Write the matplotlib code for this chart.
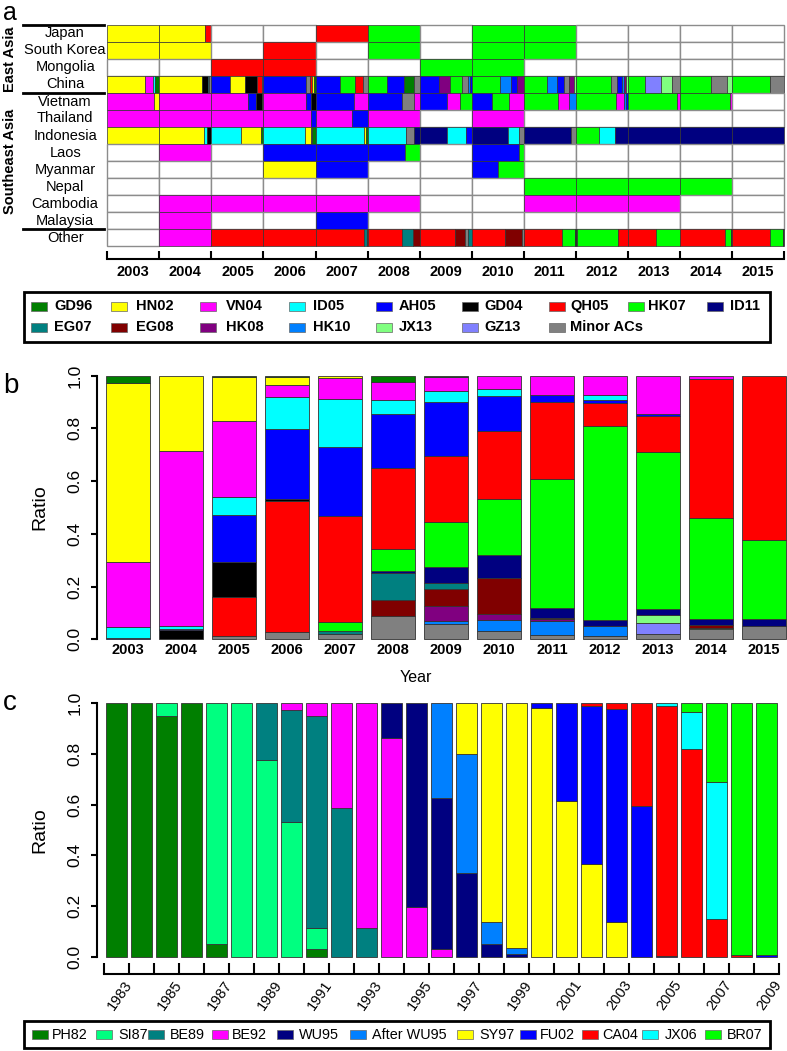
import numpy as np
import matplotlib
matplotlib.use('Agg')
import matplotlib.pyplot as plt
import matplotlib.transforms as mtransforms
from matplotlib.patches import Rectangle

plt.rcParams['font.family'] = ['Liberation Sans', 'DejaVu Sans']

# ---------------- data: panels a and b ----------------
ac_names = ['GD96', 'HN02', 'VN04', 'ID05', 'AH05', 'GD04', 'QH05', 'HK07', 'ID11',
            'EG07', 'EG08', 'HK08', 'HK10', 'JX13', 'GZ13', 'Minor ACs']
ac_colors = ['#007F00', '#FFFF00', '#FF00FF', '#00FFFF', '#0000FF', '#000000', '#FF0000', '#00FF00', '#000080',
             '#008080', '#800000', '#800080', '#0080FF', '#80FF80', '#8080FF', '#808080']
years_ab = list(range(2003, 2016))
countries = ['Japan', 'South Korea', 'Mongolia', 'China', 'Vietnam', 'Thailand', 'Indonesia',
             'Laos', 'Myanmar', 'Nepal', 'Cambodia', 'Malaysia', 'Other']

# panel a: one list per country, one cell per year, (lineage, share) segments; [] = no data
japan = [[('HN02', 1)], [('HN02', .87), ('QH05', .13)], [], [], [('QH05', 1)], [('HK07', 1)], [],
         [('HK07', 1)], [('HK07', 1)], [], [], [], []]
south_korea = [[('HN02', 1)], [('HN02', 1)], [], [('QH05', 1)], [], [('HK07', 1)], [],
               [('HK07', 1)], [('HK07', 1)], [], [], [], []]
mongolia = [[], [], [('QH05', 1)], [('QH05', 1)], [], [], [('HK07', 1)], [('HK07', 1)], [], [], [], [], []]
china = [[('HN02', .73), ('VN04', .15), ('ID05', .045), ('GD96', .075)],
         [('HN02', .82), ('GD04', .11), ('ID05', .03), ('Minor ACs', .04)],
         [('AH05', .365), ('HN02', .275), ('GD04', .235), ('QH05', .095), ('Minor ACs', .03)],
         [('AH05', .82), ('Minor ACs', .065), ('QH05', .045), ('HN02', .035), ('GD96', .035)],
         [('AH05', .47), ('HK07', .28), ('QH05', .16), ('Minor ACs', .09)],
         [('HK07', .38), ('AH05', .32), ('GD96', .19), ('Minor ACs', .11)],
         [('AH05', .37), ('HK08', .22), ('HK07', .22), ('Minor ACs', .11), ('HK10', .05), ('AH05', .03)],
         [('HK07', .545), ('HK10', .205), ('AH05', .128), ('HK08', .122)],
         [('HK07', .455), ('HK10', .18), ('AH05', .14), ('Minor ACs', .1), ('HK08', .095), ('JX13', .03)],
         [('HK07', .68), ('Minor ACs', .12), ('AH05', .08), ('HK10', .05), ('HK08', .04), ('JX13', .03)],
         [('HK07', .33), ('GZ13', .30), ('JX13', .21), ('Minor ACs', .16)],
         [('HK07', .6), ('Minor ACs', .3), ('JX13', .1)],
         [('HK07', .74), ('Minor ACs', .26)]]
vietnam = [[('VN04', .89), ('HN02', .11)], [('VN04', 1)],
           [('VN04', .7), ('AH05', .15), ('GD04', .12), ('GD96', .03)],
           [('VN04', .81), ('AH05', .095), ('GD04', .095)],
           [('AH05', .74), ('VN04', .26)],
           [('AH05', .655), ('Minor ACs', .24), ('VN04', .105)],
           [('AH05', .53), ('VN04', .245), ('HK07', .225)],
           [('AH05', .4), ('HK07', .32), ('VN04', .28)],
           [('HK07', .66), ('VN04', .21), ('HK10', .13)],
           [('HK07', .77), ('VN04', .16), ('HK10', .04), ('AH05', .03)],
           [('HK07', .94), ('VN04', .06)], [('HK07', .97), ('VN04', .03)], []]
thailand = [[('VN04', 1)], [('VN04', 1)], [('VN04', 1)], [('VN04', .91), ('AH05', .09)],
            [('VN04', .70), ('AH05', .30)], [('VN04', 1)], [], [('VN04', 1)], [], [], [], [], []]
indonesia = [[('HN02', 1)], [('HN02', .85), ('ID05', .06), ('GD04', .09)],
             [('ID05', .56), ('HN02', .40), ('GD96', .04)],
             [('ID05', .795), ('HN02', .11), ('Minor ACs', .035), ('GD96', .06)],
             [('ID05', .93), ('HN02', .04), ('GD96', .03)],
             [('ID05', .73), ('Minor ACs', .17), ('ID11', .10)],
             [('ID11', .52), ('ID05', .37), ('AH05', .11)],
             [('ID11', .69), ('ID05', .21), ('Minor ACs', .10)],
             [('ID11', .90), ('Minor ACs', .10)],
             [('HK07', .45), ('ID05', .30), ('ID11', .25)],
             [('ID11', 1)], [('ID11', 1)], [('ID11', 1)]]
laos = [[], [('VN04', 1)], [], [('AH05', 1)], [('AH05', 1)], [('AH05', .71), ('HK07', .29)], [],
        [('AH05', .9), ('HK07', .1)], [], [], [], [], []]
myanmar = [[], [], [], [('HN02', 1)], [('AH05', 1)], [], [], [('AH05', .51), ('HK07', .49)], [], [], [], [], []]
nepal = [[], [], [], [], [], [], [], [], [('HK07', 1)], [('HK07', 1)], [('HK07', 1)], [('HK07', 1)], []]
cambodia = [[], [('VN04', 1)], [('VN04', 1)], [('VN04', 1)], [('VN04', 1)], [('VN04', 1)], [], [],
            [('VN04', 1)], [('VN04', 1)], [('VN04', 1)], [], []]
malaysia = [[], [('VN04', 1)], [], [], [('AH05', 1)], [], [], [], [], [], [], [], []]
other = [[], [('VN04', 1)], [('QH05', 1)], [('QH05', 1)],
         [('QH05', .93), ('EG07', .05), ('EG08', .02)],
         [('QH05', .67), ('EG07', .20), ('EG08', .13)],
         [('QH05', .68), ('EG08', .19), ('Minor ACs', .06), ('EG07', .07)],
         [('QH05', .64), ('EG08', .32), ('Minor ACs', .04)],
         [('QH05', .74), ('HK07', .24), ('GD04', .02)],
         [('GD04', .02), ('HK07', .79), ('QH05', .19)],
         [('QH05', .55), ('HK07', .45)],
         [('QH05', .87), ('HK07', .11), ('GD04', .02)],
         [('QH05', .73), ('HK07', .25), ('GD04', .02)]]
panel_a_rows = [japan, south_korea, mongolia, china, vietnam, thailand, indonesia,
                laos, myanmar, nepal, cambodia, malaysia, other]

# panel b: yearly ratio of each lineage (2003..2015)
b_gd96 = [.027, 0, .006, .004, 0, .025, .006, 0, 0, 0, 0, 0, 0]
b_hn02 = [.678, .286, .166, .031, .010, 0, 0, 0, 0, 0, 0, 0, 0]
b_vn04 = [.249, .664, .287, .045, .077, .067, .051, .049, .074, .073, .145, .011, 0]
b_id05 = [.041, .010, .069, .122, .184, .053, .043, .028, 0, .019, 0, 0, 0]
b_ah05 = [.005, .004, .179, .264, .261, .206, .203, .131, .026, .010, .008, 0, 0]
b_gd04 = [0, .036, .134, .008, 0, 0, 0, 0, 0, 0, 0, 0, 0]
b_qh05 = [0, 0, .146, .499, .401, .306, .252, .260, .291, .087, .135, .530, .624]
b_hk07 = [0, 0, 0, 0, .034, .084, .170, .213, .490, .739, .596, .381, .298]
b_id11 = [0, 0, 0, 0, 0, .009, .063, .087, .037, .022, .025, .024, .028]
b_eg07 = [0, 0, 0, 0, .014, .100, .020, 0, 0, 0, 0, 0, 0]
b_eg08 = [0, 0, 0, 0, 0, .062, .066, .136, .005, 0, 0, .010, 0]
b_hk08 = [0, 0, 0, 0, 0, 0, .057, .024, .008, 0, 0, 0, 0]
b_hk10 = [0, 0, 0, 0, 0, 0, .010, .042, .053, .036, 0, 0, 0]
b_jx13 = [0, 0, 0, 0, 0, 0, 0, 0, 0, 0, .028, .006, 0]
b_gz13 = [0, 0, 0, 0, 0, 0, 0, 0, 0, 0, .042, 0, 0]
b_minor = [0, 0, .013, .027, .019, .088, .059, .030, .016, .014, .021, .038, .050]
panel_b = [b_gd96, b_hn02, b_vn04, b_id05, b_ah05, b_gd04, b_qh05, b_hk07, b_id11,
           b_eg07, b_eg08, b_hk08, b_hk10, b_jx13, b_gz13, b_minor]

# ---------------- data: panel c ----------------
years_c = list(range(1983, 2010))
c_names = ['PH82', 'SI87', 'BE89', 'BE92', 'WU95', 'After WU95', 'SY97', 'FU02', 'CA04', 'JX06', 'BR07']
c_colors = ['#007F00', '#00FF80', '#008080', '#FF00FF', '#000080', '#0080FF', '#FFFF00',
            '#0000FF', '#FF0000', '#00FFFF', '#00FF00']
c_ph82 = [1, 1, .95, 1, .05, 0, 0, 0, .03] + [0] * 18
c_si87 = [0, 0, .05, 0, .95, 1, .775, .53, .085] + [0] * 18
c_be89 = [0] * 6 + [.225, .445, .833, .585, .115] + [0] * 16
c_be92 = [0] * 7 + [.025, .052, .415, .885, .865, .195, .03] + [0] * 13
c_wu95 = [0] * 11 + [.135, .805, .595, .33, .05, .012] + [0] * 10
c_after = [0] * 13 + [.375, .47, .085, .023] + [0] * 10
c_sy97 = [0] * 14 + [.20, .865, .965, .982, .615, .365, .135] + [0] * 6
c_fu02 = [0] * 17 + [.018, .385, .624, .843, .595, .004, 0, 0, 0, .006]
c_ca04 = [0] * 19 + [.011, .022, .405, .986, .82, .15, .008, 0]
c_jx06 = [0] * 22 + [.010, .145, .54, 0, 0]
c_br07 = [0] * 23 + [.035, .31, .992, .994]
panel_c = [c_ph82, c_si87, c_be89, c_be92, c_wu95, c_after, c_sy97, c_fu02, c_ca04, c_jx06, c_br07]

# ---------------- figure ----------------
W, H = 787, 1051
PT = 0.72  # px -> pt at 100 dpi
fig = plt.figure(figsize=(W / 100, H / 100), dpi=100)


def add_ax(x0, y0, x1, y1):
    return fig.add_axes([x0 / W, 1 - y1 / H, (x1 - x0) / W, (y1 - y0) / H])


col = dict(zip(ac_names, ac_colors))

# ---- panel a
ax = add_ax(107.3, 25, 784, 246)
for i, cells in enumerate(panel_a_rows):
    for j, cell in enumerate(cells):
        if not cell:
            ax.barh(i, 1, left=j, height=1, color='white', edgecolor='#8c8c8c', linewidth=1, clip_on=False)
            continue
        tot = sum(f for _, f in cell)
        left = j
        for name, f in cell:
            ax.barh(i, f / tot, left=left, height=1, color=col[name], edgecolor='#333333', linewidth=0.5,
                    clip_on=False)
            left += f / tot
ax.set_xlim(0, 13)
ax.set_ylim(12.5, -0.5)
for s in ['top', 'right', 'left']:
    ax.spines[s].set_visible(False)
ax.spines['bottom'].set_position(('outward', 13 * PT))
ax.spines['bottom'].set_linewidth(1.5)
ax.set_xticks(np.arange(14))
ax.set_xticklabels([])
ax.set_xticks(np.arange(13) + 0.5, minor=True)
ax.set_xticklabels(years_ab, minor=True, fontweight='bold', fontsize=10.5)
ax.tick_params(axis='x', which='major', direction='in', length=8 * PT, width=1.5)
ax.tick_params(axis='x', which='minor', length=0, pad=4)
ax.set_yticks([])
for i, name in enumerate(countries):
    ax.text(-0.81, i, name, ha='center', va='center', fontsize=10.5)
ax.text(-1.86, 1.5, 'East Asia', rotation=90, ha='center', va='center', fontweight='bold', fontsize=10.5)
ax.text(-1.86, 7.5, 'Southeast Asia', rotation=90, ha='center', va='center', fontweight='bold', fontsize=10.5)
for yl in [-0.5, 3.5, 11.5]:
    ax.plot([-1.613, -0.058], [yl, yl], color='black', lw=2, clip_on=False)


def stacked(axx, data, colors, width, top_first):
    n = len(data[0])
    x = np.arange(n)
    bottom = np.zeros(n)
    pairs = list(zip(data, colors))
    if top_first:
        pairs = pairs[::-1]
    for vals, c in pairs:
        v = np.array(vals, dtype=float)
        m = v > 0
        axx.bar(x[m], v[m], bottom=bottom[m], width=width, color=c, edgecolor='#333333', linewidth=0.6,
                clip_on=False)
        bottom += v


def ratio_axis(axx):
    axx.set_ylim(0, 1)
    for s in ['top', 'right', 'bottom']:
        axx.spines[s].set_visible(False)
    axx.spines['left'].set_bounds(0, 1)
    axx.spines['left'].set_linewidth(1.5)
    axx.set_yticks([0, .2, .4, .6, .8, 1.0])
    axx.set_yticklabels(['0.0', '0.2', '0.4', '0.6', '0.8', '1.0'], rotation=90, va='center', fontsize=12.5)
    axx.tick_params(axis='y', length=6 * PT, width=1.5, pad=6)
    axx.text((40 - 96.7) / (787 - 96.7), 0.5, 'Ratio', rotation=90, ha='center', va='center',
             fontsize=14, transform=axx.transAxes)


# ---- panel b (legend order is stacked top to bottom)
axb = add_ax(96.7, 375.7, 787, 639.3)
stacked(axb, panel_b, ac_colors, 0.83, top_first=True)
axb.set_xlim(-0.591, 12.439)
ratio_axis(axb)
axb.set_xticks(np.arange(13))
axb.set_xticklabels(years_ab, fontweight='bold', fontsize=10.5)
axb.tick_params(axis='x', length=0, pad=3)
fig.text(416 / W, 1 - 677 / H, 'Year', ha='center', va='center', fontsize=11.5)

# ---- panel c (legend order is stacked bottom to top)
axc = add_ax(96.7, 703.3, 787, 956.7)
stacked(axc, panel_c, c_colors, 0.83, top_first=False)
axc.set_xlim(-0.784, 26.83)
ratio_axis(axc)
axc.spines['bottom'].set_visible(True)
axc.spines['bottom'].set_position(('outward', 17.3 * PT))
axc.spines['bottom'].set_bounds(-0.5, 26.5)
axc.spines['bottom'].set_linewidth(1.5)
axc.set_xticks(np.arange(28) - 0.5)
axc.set_xticklabels([])
odd = np.arange(0, 27, 2)
axc.set_xticks(odd, minor=True)
axc.set_xticklabels([str(years_c[k]) for k in odd], minor=True, rotation=55, ha='right', va='top',
                    rotation_mode='anchor', fontsize=10.5)
axc.tick_params(axis='x', which='major', direction='in', length=11 * PT, width=1.5)
axc.tick_params(axis='x', which='minor', length=0, pad=3)
off = mtransforms.ScaledTranslation(7 / 100, 0, fig.dpi_scale_trans)
for lab in axc.get_xticklabels(minor=True):
    lab.set_transform(lab.get_transform() + off)

# ---- panel letters
fig.text(3 / W, 1 - 20.5 / H, 'a', fontsize=18, va='baseline')
fig.text(3 / W, 1 - 393 / H, 'b', fontsize=20, va='baseline')
fig.text(3 / W, 1 - 710 / H, 'c', fontsize=20, va='baseline')

# ---- legends (drawn in pixel space)
ov = fig.add_axes([0, 0, 1, 1])
ov.set_xlim(0, W)
ov.set_ylim(H, 0)
ov.axis('off')
ov.add_patch(Rectangle((24, 292), 746, 50, fill=False, lw=2, ec='black'))
sw_a = [31, 111, 200, 289, 376, 462, 549, 628, 707]
tx_a = [54, 136, 226, 313, 399, 484, 570, 648, 730]
for k, (name, c) in enumerate(zip(ac_names, ac_colors)):
    r, cidx = divmod(k, 9)
    yc = 306 + r * 21
    ov.add_patch(Rectangle((sw_a[cidx], yc - 4.5), 16, 9, fc=c, ec='#666666', lw=0.5))
    ov.text(tx_a[cidx], yc, name, ha='left', va='center', fontsize=10.5, fontweight='bold')

ov.add_patch(Rectangle((24, 1021), 746, 27, fill=False, lw=2, ec='black'))
sw_c = [32, 96, 148, 212, 277, 350, 457, 520, 582, 642, 705]
tx_c = [52, 118, 170, 232, 299, 372, 479, 540, 602, 665, 727]
for k, (name, c) in enumerate(zip(c_names, c_colors)):
    ov.add_patch(Rectangle((sw_c[k], 1030), 16, 9, fc=c, ec='#666666', lw=0.5))
    ov.text(tx_c[k], 1035, name, ha='left', va='center', fontsize=10.4)

fig.savefig('out.png', dpi=100)
